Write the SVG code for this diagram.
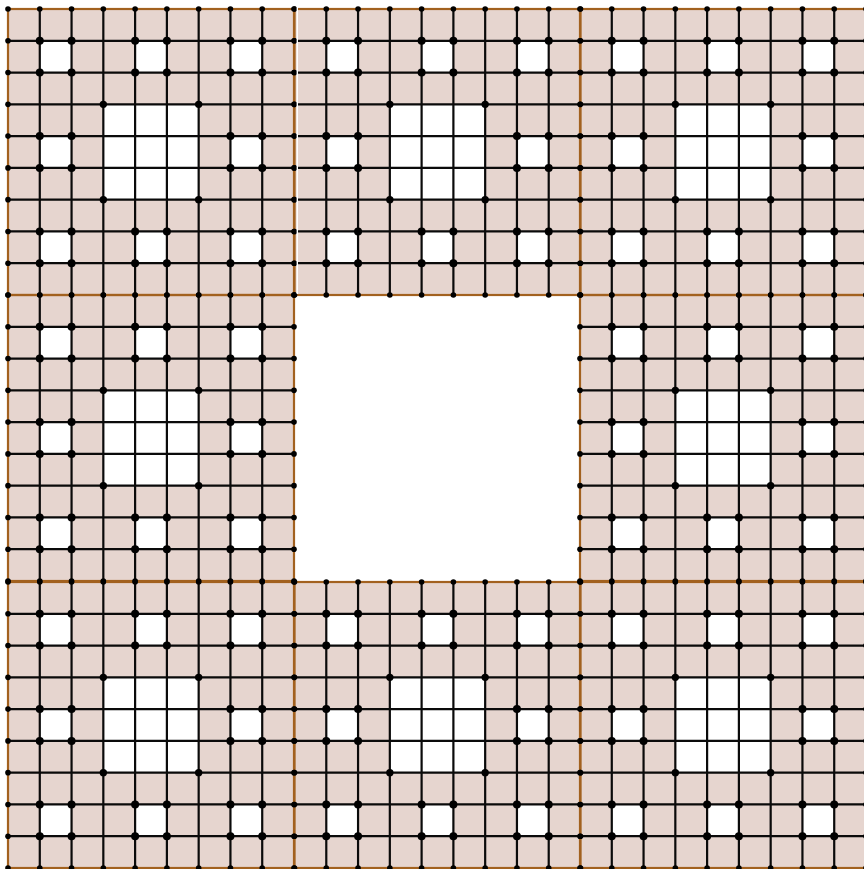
<svg xmlns="http://www.w3.org/2000/svg" xmlns:xlink="http://www.w3.org/1999/xlink" width="864" height="869" viewBox="0 0 864 869">
<style>
.pink{fill:#e6d5cf}
.hole{fill:#ffffff}
.grid{fill:none;stroke:#0a0a0a;stroke-width:2.2}
.edge{fill:none;stroke:#a2611f;stroke-width:2.2}
.bd{fill:#000000}
.id{fill:#000000}
</style>
<defs>
<g id="fill">
<rect class="pink" x="0" y="0" width="286" height="286"/>
<rect class="hole" x="95.33" y="95.33" width="95.34" height="95.34"/>
<rect class="hole" x="31.78" y="31.78" width="31.78" height="31.78"/>
<rect class="hole" x="127.11" y="31.78" width="31.78" height="31.78"/>
<rect class="hole" x="222.44" y="31.78" width="31.78" height="31.78"/>
<rect class="hole" x="31.78" y="127.11" width="31.78" height="31.78"/>
<rect class="hole" x="222.44" y="127.11" width="31.78" height="31.78"/>
<rect class="hole" x="31.78" y="222.44" width="31.78" height="31.78"/>
<rect class="hole" x="127.11" y="222.44" width="31.78" height="31.78"/>
<rect class="hole" x="222.44" y="222.44" width="31.78" height="31.78"/>
</g>
<g id="lines">
<path class="grid" d="M31.78 0V286M63.56 0V286M95.33 0V286M127.11 0V286M158.89 0V286M190.67 0V286M222.44 0V286M254.22 0V286M0 31.78H286M0 63.56H286M0 95.33H286M0 127.11H286M0 158.89H286M0 190.67H286M0 222.44H286M0 254.22H286"/>
<rect class="edge" x="0" y="0" width="286" height="286"/>
</g>
<g id="rowAll">
<circle class="bd" cx="0" cy="0" r="2.8"/><circle class="bd" cx="31.78" cy="0" r="2.8"/><circle class="bd" cx="63.56" cy="0" r="2.8"/><circle class="bd" cx="95.33" cy="0" r="2.8"/><circle class="bd" cx="127.11" cy="0" r="2.8"/><circle class="bd" cx="158.89" cy="0" r="2.8"/><circle class="bd" cx="190.67" cy="0" r="2.8"/><circle class="bd" cx="222.44" cy="0" r="2.8"/><circle class="bd" cx="254.22" cy="0" r="2.8"/><circle class="bd" cx="286" cy="0" r="2.8"/>
</g>
<g id="ends">
<circle class="bd" cx="0" cy="0" r="2.8"/><circle class="bd" cx="286" cy="0" r="2.8"/>
</g>
<g id="rowA">
<circle class="id" cx="31.78" cy="0" r="4"/><circle class="id" cx="63.56" cy="0" r="4"/><circle class="id" cx="127.11" cy="0" r="4"/><circle class="id" cx="158.89" cy="0" r="4"/><circle class="id" cx="222.44" cy="0" r="4"/><circle class="id" cx="254.22" cy="0" r="4"/>
</g>
<g id="rowB">
<circle class="id" cx="31.78" cy="0" r="4"/><circle class="id" cx="63.56" cy="0" r="4"/><circle class="id" cx="222.44" cy="0" r="4"/><circle class="id" cx="254.22" cy="0" r="4"/>
</g>
<g id="dots">
<use xlink:href="#rowAll" y="0"/>
<use xlink:href="#rowAll" y="286"/>
<use xlink:href="#ends" y="31.78"/>
<use xlink:href="#ends" y="63.56"/>
<use xlink:href="#ends" y="95.33"/>
<use xlink:href="#ends" y="127.11"/>
<use xlink:href="#ends" y="158.89"/>
<use xlink:href="#ends" y="190.67"/>
<use xlink:href="#ends" y="222.44"/>
<use xlink:href="#ends" y="254.22"/>
<use xlink:href="#rowA" y="31.78"/>
<use xlink:href="#rowA" y="63.56"/>
<use xlink:href="#rowA" y="222.44"/>
<use xlink:href="#rowA" y="254.22"/>
<use xlink:href="#rowB" y="127.11"/>
<use xlink:href="#rowB" y="158.89"/>
<circle class="id" cx="95.33" cy="95.33" r="3.7"/>
<circle class="id" cx="190.67" cy="95.33" r="3.7"/>
<circle class="id" cx="95.33" cy="190.67" r="3.7"/>
<circle class="id" cx="190.67" cy="190.67" r="3.7"/>
</g>
</defs>
<rect x="0" y="0" width="864" height="869" fill="#ffffff"/>
<g id="fills">
<use xlink:href="#fill" x="8" y="9"/>
<use xlink:href="#fill" x="294.5" y="9"/>
<use xlink:href="#fill" x="580" y="9"/>
<use xlink:href="#fill" x="8" y="295"/>
<use xlink:href="#fill" x="580" y="295"/>
<use xlink:href="#fill" x="8" y="582"/>
<use xlink:href="#fill" x="294.5" y="582"/>
<use xlink:href="#fill" x="580" y="582"/>
</g>
<g id="connectors">
<use xlink:href="#lines" x="8" y="9"/>
<use xlink:href="#lines" x="294.5" y="9"/>
<use xlink:href="#lines" x="580" y="9"/>
<use xlink:href="#lines" x="8" y="295"/>
<use xlink:href="#lines" x="580" y="295"/>
<use xlink:href="#lines" x="8" y="582"/>
<use xlink:href="#lines" x="294.5" y="582"/>
<use xlink:href="#lines" x="580" y="582"/>
</g>
<g id="nodes">
<use id="block-top-left" xlink:href="#dots" x="8" y="9"/>
<use id="block-top-middle" xlink:href="#dots" x="294.5" y="9"/>
<use id="block-top-right" xlink:href="#dots" x="580" y="9"/>
<use id="block-middle-left" xlink:href="#dots" x="8" y="295"/>
<use id="block-middle-right" xlink:href="#dots" x="580" y="295"/>
<use id="block-bottom-left" xlink:href="#dots" x="8" y="582"/>
<use id="block-bottom-middle" xlink:href="#dots" x="294.5" y="582"/>
<use id="block-bottom-right" xlink:href="#dots" x="580" y="582"/>
</g>
<line x1="297.3" y1="0" x2="297.3" y2="294" stroke="#ffffff" stroke-width="1.4"/>
</svg>
